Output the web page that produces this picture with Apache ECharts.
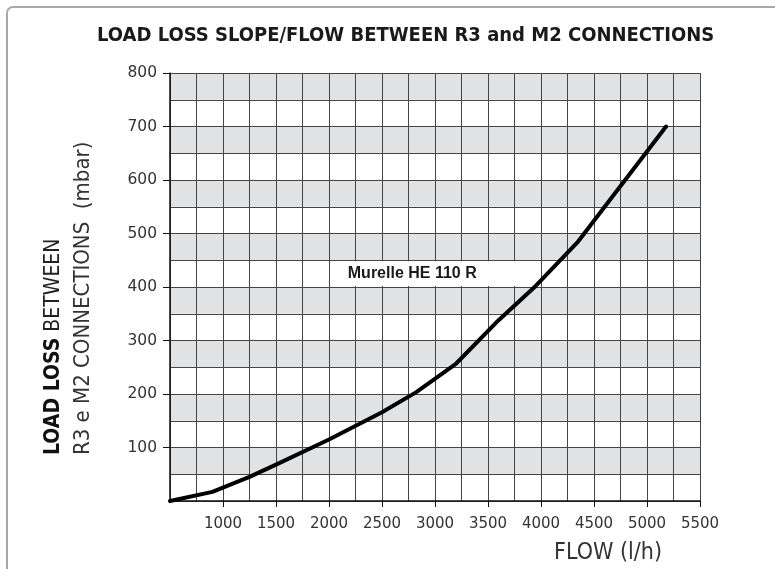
<!DOCTYPE html>
<html>
<head>
<meta charset="utf-8">
<script src="https://cdn.jsdelivr.net/npm/echarts@6/dist/echarts.min.js"></script>
<style>
  html, body { margin: 0; padding: 0; background: #fff; }
  #chart { width: 775px; height: 569px; }
</style>
</head>
<body>
<div id="chart"></div>
<script>
// Flow (l/h) and load loss (mbar) along the Murelle HE 110 R curve
const flow     = [500, 900, 1250, 1500, 2000, 2500, 2820, 3200, 3600, 3950, 4350, 5180];
const loadLoss = [0,   17,  45,   68,   115,  166,  203,  257,  338,  402,  485,  700];

const xTickLabels = [1000, 1500, 2000, 2500, 3000, 3500, 4000, 4500, 5000, 5500];
const yTickLabels = [100, 200, 300, 400, 500, 600, 700, 800];

const seriesName = 'Murelle HE 110 R';
// Label panel bounds in data units
const panelFlow = [2130, 3890];
const panelLoss = [402, 448];

const NARROW = "'Liberation Sans Narrow', 'DejaVu Sans Condensed', 'Liberation Sans', sans-serif";
const WIDE = "'DejaVu Sans', 'Liberation Sans', sans-serif";
const GRID_LINE = '#454545';
const BAND = '#e1e2e4';

const chart = echarts.init(document.getElementById('chart'), null, { renderer: 'canvas' });

const gridAxisX = {
  type: 'value', min: 500, max: 5500, interval: 250, position: 'bottom',
  axisLine: { show: true, lineStyle: { color: '#111', width: 1.5 } },
  axisTick: { show: false }, axisLabel: { show: false },
  splitLine: { show: true, lineStyle: { color: GRID_LINE, width: 1 } }
};
const labelAxisX = {
  type: 'value', min: 500, max: 5500, interval: 500, position: 'bottom',
  axisLine: { show: false },
  axisTick: { show: true, length: 6, customValues: xTickLabels, lineStyle: { color: '#111' } },
  axisLabel: {
    show: true, customValues: xTickLabels, margin: 16,
    color: '#333', fontSize: 15, fontFamily: WIDE,
    formatter: v => (xTickLabels.indexOf(v) >= 0 ? String(v) : '')
  },
  splitLine: { show: false }
};
const gridAxisY = {
  type: 'value', min: 0, max: 800, interval: 50, position: 'left',
  axisLine: { show: true, lineStyle: { color: '#111', width: 1.5 } },
  axisTick: { show: false }, axisLabel: { show: false },
  splitLine: { show: true, lineStyle: { color: GRID_LINE, width: 1 } },
  splitArea: { show: true, areaStyle: { color: ['#ffffff', BAND] } }
};
const labelAxisY = {
  type: 'value', min: 0, max: 800, interval: 100, position: 'left',
  axisLine: { show: false },
  axisTick: { show: true, length: 7, customValues: yTickLabels, lineStyle: { color: '#111' } },
  axisLabel: {
    show: true, customValues: yTickLabels, margin: 13,
    color: '#333', fontSize: 15.5, fontFamily: WIDE,
    formatter: v => (yTickLabels.indexOf(v) >= 0 ? String(v) : '')
  },
  splitLine: { show: false }
};

const option = {
  animation: false,
  backgroundColor: '#fff',
  textStyle: { fontFamily: NARROW },
  title: {
    text: 'LOAD LOSS SLOPE/FLOW BETWEEN R3 and M2 CONNECTIONS',
    left: 92, top: 21,
    textStyle: { fontFamily: NARROW, fontWeight: 'bold', fontSize: 20, color: '#1a1a1a' }
  },
  grid: { left: 170, top: 73, right: 75, bottom: 68, containLabel: false },
  xAxis: [gridAxisX, labelAxisX],
  yAxis: [gridAxisY, labelAxisY],
  series: [{
    name: seriesName,
    type: 'line',
    xAxisIndex: 0, yAxisIndex: 0,
    data: flow.map((f, i) => [f, loadLoss[i]]),
    smooth: false,
    showSymbol: false, symbol: 'none',
    lineStyle: { color: '#000', width: 4, cap: 'round', join: 'round' },
    markArea: {
      silent: true,
      itemStyle: { color: '#ffffff' },
      label: {
        show: true, position: 'insideLeft', distance: 5,
        formatter: seriesName,
        color: '#1a1a1a', fontWeight: 'bold', fontSize: 16, fontFamily: "'Liberation Sans', Arial, sans-serif"
      },
      data: [[{ coord: [panelFlow[0], panelLoss[0]] }, { coord: [panelFlow[1], panelLoss[1]] }]]
    }
  }],
  graphic: [
    {
      type: 'rect', silent: true, z: -1,
      shape: { x: 7, y: 7, width: 900, height: 700, r: 6 },
      style: { fill: 'none', stroke: '#a8a8a8', lineWidth: 2 }
    },
    {
      type: 'text', silent: true,
      x: 54, y: 455, rotation: Math.PI / 2,
      style: {
        text: '{b|LOAD LOSS} BETWEEN',
        align: 'left', verticalAlign: 'middle',
        fill: '#222', font: '21px ' + NARROW,
        rich: { b: { fontWeight: 'bold', fontSize: 21, fontFamily: NARROW, fill: '#111' } }
      }
    },
    {
      type: 'text', silent: true,
      x: 83, y: 455, rotation: Math.PI / 2,
      style: {
        text: 'R3 e M2 CONNECTIONS  (mbar)',
        align: 'left', verticalAlign: 'middle',
        fill: '#333', font: '22px ' + NARROW
      }
    },
    {
      type: 'text', silent: true,
      x: 608, y: 553,
      style: {
        text: 'FLOW (l/h)',
        align: 'center', verticalAlign: 'middle',
        fill: '#333', font: '23px ' + NARROW
      }
    }
  ]
};

chart.setOption(option);
</script>
</body>
</html>
